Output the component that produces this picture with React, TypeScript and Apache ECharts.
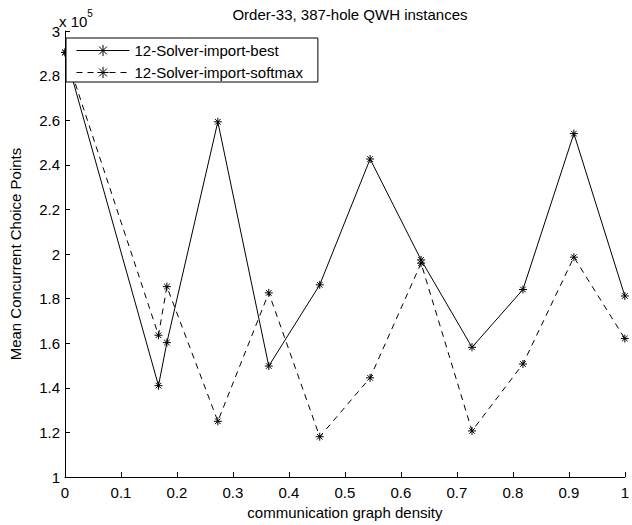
import React, { useEffect, useRef } from "react";
import * as echarts from "echarts";

const title = "Order-33, 387-hole QWH instances";
const xName = "communication graph density";
const yName = "Mean Concurrent Choice Points";
const seriesNames = ["12-Solver-import-best", "12-Solver-import-softmax"];
const density = [0, 0.167, 0.182, 0.273, 0.364, 0.455, 0.545, 0.636, 0.727, 0.818, 0.909, 1];
const bestValues = [290400, 141000, 160300, 259300, 149800, 186200, 242600, 197400, 158200, 184100, 254000, 181200];
const softmaxValues = [290400, 163600, 185400, 125000, 182600, 118100, 144500, 195900, 120700, 150700, 198600, 162100];

const FONT = "'Liberation Sans', Arial, Helvetica, sans-serif";
const ASTERISK = "path://M5,0L5,10M0,5L10,5M1.5,1.5L8.5,8.5M1.5,8.5L8.5,1.5";

export default function App() {
  const ref = useRef<HTMLDivElement>(null);
  useEffect(() => {
    if (!ref.current) return;
    const chart = echarts.init(ref.current, null, { renderer: "svg" });
    const mk = (vals: number[]) => density.map((x, i) => [x, vals[i]]);
    chart.setOption({
      animation: false,
      backgroundColor: "#fff",
      textStyle: { fontFamily: FONT, color: "#000" },
      title: {
        text: title,
        left: 345,
        textAlign: "center",
        top: 2,
        textStyle: { fontFamily: FONT, fontSize: 15, fontWeight: "normal", color: "#000" },
      },
      grid: { left: 59, right: 1, top: 31, bottom: 43, containLabel: false },
      legend: {
        left: 66,
        top: 38,
        orient: "vertical",
        backgroundColor: "#fff",
        borderColor: "#000",
        borderWidth: 1,
        borderRadius: 0,
        padding: [5, 15, 2, 10],
        itemWidth: 53,
        itemHeight: 14,
        itemGap: 7,
        lineStyle: { width: 1 },
        itemStyle: { borderWidth: 1 },
        textStyle: { fontFamily: FONT, fontSize: 15, color: "#000" },
        data: seriesNames,
      },
      graphic: [
        {
          type: "text",
          left: 59,
          top: 8,
          style: {
            text: "{a|x 10}{b|5}",
            rich: {
              a: { fontFamily: FONT, fontSize: 15, fill: "#000", verticalAlign: "bottom", padding: [6, 0, 0, 0] },
              b: { fontFamily: FONT, fontSize: 10, fill: "#000", verticalAlign: "top" },
            },
          },
        },
      ],
      xAxis: {
        type: "value",
        min: 0,
        max: 1,
        interval: 0.1,
        name: xName,
        nameLocation: "middle",
        nameGap: 25,
        nameTextStyle: { fontFamily: FONT, fontSize: 15, color: "#000" },
        axisLine: { show: true, lineStyle: { color: "#000", width: 1 } },
        axisTick: { show: true, inside: true, length: 5, lineStyle: { color: "#000" } },
        axisLabel: {
          fontFamily: FONT,
          fontSize: 15,
          color: "#000",
          margin: 8,
          formatter: (v: number) => String(Number(v.toFixed(1))),
        },
        splitLine: { show: false },
      },
      yAxis: {
        type: "value",
        min: 100000,
        max: 300000,
        interval: 20000,
        name: yName,
        nameLocation: "middle",
        nameGap: 42,
        nameTextStyle: { fontFamily: FONT, fontSize: 15, color: "#000" },
        axisLine: { show: true, lineStyle: { color: "#000", width: 1 } },
        axisTick: { show: true, inside: true, length: 5, lineStyle: { color: "#000" } },
        axisLabel: {
          fontFamily: FONT,
          fontSize: 15,
          color: "#000",
          margin: 5,
          formatter: (v: number) => String(Number((v / 100000).toFixed(1))),
        },
        splitLine: { show: false },
      },
      series: [
        {
          name: seriesNames[0],
          type: "line",
          data: mk(bestValues),
          symbol: ASTERISK,
          symbolSize: 8,
          showAllSymbol: true,
          lineStyle: { color: "#000", width: 1, type: "solid" },
          itemStyle: { color: "#000", borderColor: "#000", borderWidth: 1 },
          emphasis: { disabled: true },
        },
        {
          name: seriesNames[1],
          type: "line",
          data: mk(softmaxValues),
          symbol: ASTERISK,
          symbolSize: 8,
          showAllSymbol: true,
          lineStyle: { color: "#000", width: 1, type: [6, 5] },
          itemStyle: { color: "#000", borderColor: "#000", borderWidth: 1 },
          emphasis: { disabled: true },
        },
      ],
    });
    return () => chart.dispose();
  }, []);
  return (
    <div
      ref={ref}
      style={{ position: "fixed", left: 0, top: 0, width: 632, height: 525, background: "#fff" }}
    />
  );
}
